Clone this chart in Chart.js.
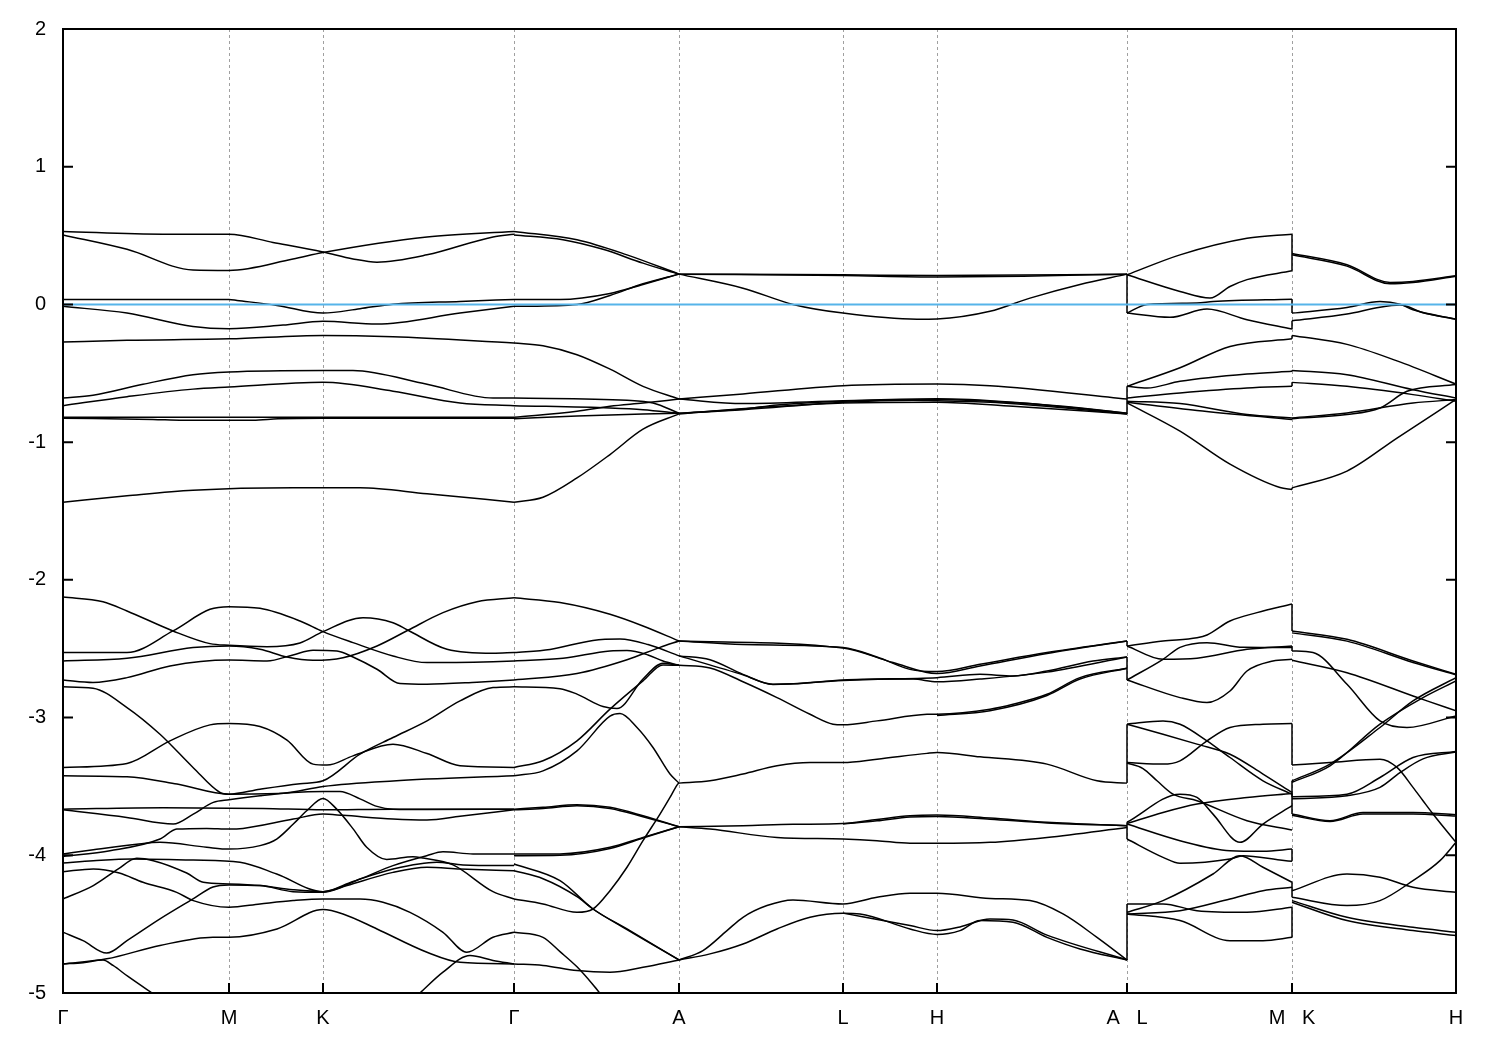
<!DOCTYPE html>
<html>
<head>
<meta charset="utf-8">
<script src="https://cdn.jsdelivr.net/npm/chart.js@4.4.1/dist/chart.umd.min.js"></script>
<style>
  html, body { margin: 0; padding: 0; background: #fff; }
  canvas { display: block; }
</style>
</head>
<body>
<canvas id="bands" width="1500" height="1050"></canvas>
<script>
// high-symmetry points along the k-path
const kTicks = [0, 1.66, 2.60, 4.51, 6.16, 7.80, 8.74, 10.64, 12.29, 13.93];
const kLabels = ['Γ', 'M', 'K', 'Γ', 'A', 'L', 'H', 'A   L', 'M   K', 'H'];
const energyTicks = [2, 1, 0, -1, -2, -3, -4, -5];
const fermiLevel = 0;

// Γ - M - K - Γ
const bandsGMKG = [
  [[0,0.53],[1.0,0.51],[1.66,0.51],[2.1,0.45],[2.60,0.38],[2.9,0.33],[3.14,0.307],[3.64,0.36],[4.3,0.49],[4.51,0.51]],
  [[0,0.505],[0.64,0.40],[1.3,0.25],[1.66,0.247],[2.3,0.33],[2.60,0.377],[3.64,0.49],[4.51,0.53]],
  [[0,0.036],[1.0,0.036],[1.66,0.036],[1.74,0.029],[2.14,-0.007],[2.60,-0.063],[2.97,-0.031],[3.30,0.002],[3.97,0.022],[4.51,0.036]],
  [[0,-0.014],[0.64,-0.063],[1.30,-0.16],[1.66,-0.176],[2.2,-0.15],[2.60,-0.123],[3.14,-0.143],[3.97,-0.063],[4.51,-0.014]],
  [[0,-0.273],[0.64,-0.26],[1.66,-0.25],[2.60,-0.225],[3.3,-0.235],[4.51,-0.28]],
  [[0,-0.68],[0.30,-0.66],[0.80,-0.58],[1.30,-0.51],[1.66,-0.49],[2.60,-0.479],[2.9,-0.48],[3.64,-0.58],[4.30,-0.68],[4.51,-0.68]],
  [[0,-0.735],[0.64,-0.67],[1.30,-0.615],[1.66,-0.60],[2.60,-0.566],[3.30,-0.63],[3.97,-0.716],[4.51,-0.735]],
  [[0,-0.82],[1.66,-0.82],[2.60,-0.82],[4.51,-0.82]],
  [[0,-0.826],[0.9,-0.835],[1.2,-0.841],[1.9,-0.841],[2.15,-0.83],[2.6,-0.826],[4.51,-0.826]],
  [[0,-1.436],[0.64,-1.39],[1.30,-1.35],[2.30,-1.332],[2.97,-1.332],[3.64,-1.375],[4.51,-1.436]],
  [[0,-2.125],[0.40,-2.159],[0.64,-2.226],[1.10,-2.371],[1.47,-2.463],[1.66,-2.475],[2.04,-2.485],[2.37,-2.458],[2.60,-2.376],[3.0,-2.275],[3.30,-2.311],[3.45,-2.366],[3.84,-2.504],[4.30,-2.533],[4.51,-2.528]],
  [[0,-2.528],[0.64,-2.528],[1.10,-2.371],[1.47,-2.214],[1.66,-2.195],[1.97,-2.207],[2.37,-2.299],[2.60,-2.376],[2.90,-2.456],[3.30,-2.553],[3.64,-2.601],[4.30,-2.594],[4.51,-2.589]],
  [[0,-2.589],[0.64,-2.569],[1.30,-2.492],[1.66,-2.480],[1.97,-2.504],[2.24,-2.560],[2.50,-2.584],[2.80,-2.565],[3.14,-2.480],[3.45,-2.366],[3.80,-2.238],[4.14,-2.159],[4.51,-2.130]],
  [[0,-2.727],[0.30,-2.745],[0.64,-2.710],[1.07,-2.625],[1.66,-2.582],[2.04,-2.589],[2.30,-2.545],[2.50,-2.511],[2.74,-2.516],[2.90,-2.560],[3.14,-2.649],[3.37,-2.753],[3.64,-2.758],[4.14,-2.743],[4.51,-2.727]],
  [[0,-2.777],[0.30,-2.787],[0.64,-2.927],[0.97,-3.121],[1.30,-3.362],[1.57,-3.544],[1.66,-3.556],[1.97,-3.52],[2.37,-3.48],[2.60,-3.459],[2.97,-3.266],[3.30,-3.145],[3.64,-3.024],[3.97,-2.879],[4.30,-2.782],[4.51,-2.777]],
  [[0,-3.362],[0.64,-3.333],[1.07,-3.169],[1.47,-3.053],[1.66,-3.043],[1.97,-3.065],[2.24,-3.164],[2.50,-3.338],[2.64,-3.345],[2.90,-3.278],[3.30,-3.193],[3.64,-3.261],[3.97,-3.350],[4.51,-3.362]],
  [[0,-3.423],[0.64,-3.43],[1.14,-3.483],[1.66,-3.556],[2.2,-3.55],[2.60,-3.50],[3.3,-3.46],[4.51,-3.423]],
  [[0,-3.665],[1.0,-3.655],[2.0,-3.66],[2.6,-3.67],[3.3,-3.665],[4.51,-3.665]],
  [[0,-3.670],[0.637,-3.725],[1.103,-3.773],[1.303,-3.701],[1.503,-3.616],[1.66,-3.597],[1.97,-3.568],[2.303,-3.544],[2.60,-3.537],[2.77,-3.537],[2.97,-3.59],[3.14,-3.645],[3.30,-3.665],[3.64,-3.668],[4.51,-3.665]],
  [[0,-4.008],[0.47,-3.967],[0.97,-3.882],[1.137,-3.810],[1.437,-3.805],[1.66,-3.81],[1.80,-3.805],[2.303,-3.737],[2.60,-3.701],[2.80,-3.71],[3.30,-3.737],[3.64,-3.744],[3.97,-3.717],[4.51,-3.670]],
  [[0,-3.991],[0.303,-3.96],[0.737,-3.92],[0.97,-3.906],[1.437,-3.942],[1.66,-3.955],[1.97,-3.930],[2.137,-3.882],[2.303,-3.773],[2.437,-3.677],[2.60,-3.587],[2.737,-3.665],[2.903,-3.810],[3.037,-3.942],[3.237,-4.031],[3.50,-4.01],[3.60,-4.02],[3.90,-4.07],[4.30,-4.264],[4.51,-4.317]],
  [[0,-4.056],[0.303,-4.04],[0.687,-4.027],[1.303,-4.035],[1.77,-4.051],[2.137,-4.136],[2.60,-4.264],[2.97,-4.172],[3.30,-4.075],[3.637,-4.003],[3.80,-3.975],[4.10,-3.99],[4.51,-3.991]],
  [[0,-4.317],[0.303,-4.22],[0.553,-4.099],[0.737,-4.022],[0.903,-4.039],[1.237,-4.129],[1.403,-4.196],[1.66,-4.208],[1.97,-4.22],[2.30,-4.25],[2.60,-4.264],[2.90,-4.19],[3.30,-4.10],[3.737,-4.05],[4.0,-4.07],[4.51,-4.075]],
  [[0,-4.559],[0.20,-4.62],[0.437,-4.71],[0.64,-4.62],[0.97,-4.462],[1.30,-4.317],[1.50,-4.23],[1.66,-4.215],[1.97,-4.22],[2.30,-4.264],[2.60,-4.269],[2.84,-4.22],[3.30,-4.124],[3.64,-4.087],[3.97,-4.099],[4.51,-4.112]],
  [[0,-4.119],[0.303,-4.099],[0.563,-4.129],[0.80,-4.196],[1.137,-4.269],[1.303,-4.329],[1.66,-4.377],[1.97,-4.353],[2.30,-4.329],[2.60,-4.317],[2.97,-4.317],[3.20,-4.341],[3.47,-4.414],[3.80,-4.559],[4.037,-4.704],[4.30,-4.595],[4.51,-4.559]],
  [[0,-4.789],[0.437,-4.752],[0.97,-4.655],[1.50,-4.595],[1.66,-4.595],[2.14,-4.535],[2.60,-4.394],[2.80,-4.426],[3.14,-4.535],[3.64,-4.704],[3.97,-4.777],[4.51,-4.789]],
  [[0,-4.789],[0.20,-4.78],[0.40,-4.76],[0.50,-4.80],[0.65,-4.88],[0.93,-5.02]],
  [[3.57,-5.0],[3.80,-4.849],[4.07,-4.728],[4.30,-4.764],[4.51,-4.789]]
];

// Γ - A
const bandsGA = [
  [[4.51,0.53],[5.14,0.47],[5.64,0.36],[6.16,0.22]],
  [[4.51,0.505],[5.0,0.47],[5.4,0.40],[5.8,0.30],[6.16,0.22]],
  [[4.51,0.036],[4.97,0.036],[5.47,0.08],[5.80,0.145],[6.16,0.22]],
  [[4.51,-0.014],[5.14,0.0],[5.47,0.065],[5.80,0.15],[6.16,0.22]],
  [[4.51,-0.28],[4.80,-0.30],[5.14,-0.365],[5.47,-0.47],[5.80,-0.595],[6.16,-0.687]],
  [[4.51,-0.68],[5.64,-0.696],[5.90,-0.716],[6.16,-0.79]],
  [[4.51,-0.735],[5.47,-0.752],[5.80,-0.764],[6.16,-0.79]],
  [[4.51,-0.82],[5.14,-0.776],[5.47,-0.74],[5.80,-0.716],[6.16,-0.687]],
  [[4.51,-0.83],[5.14,-0.81],[5.80,-0.795],[6.16,-0.79]],
  [[4.51,-1.436],[4.80,-1.40],[5.14,-1.26],[5.47,-1.09],[5.80,-0.906],[6.16,-0.795]],
  [[4.51,-2.13],[4.97,-2.165],[5.47,-2.25],[5.80,-2.335],[6.16,-2.444]],
  [[4.51,-2.528],[4.87,-2.505],[5.30,-2.44],[5.57,-2.43],[5.85,-2.47],[6.16,-2.552]],
  [[4.51,-2.589],[5.0,-2.57],[5.47,-2.516],[5.64,-2.513],[5.85,-2.545],[6.0,-2.589],[6.16,-2.62]],
  [[4.51,-2.727],[5.14,-2.68],[5.64,-2.58],[5.97,-2.49],[6.16,-2.444]],
  [[4.51,-2.777],[4.97,-2.79],[5.14,-2.83],[5.40,-2.92],[5.54,-2.935],[5.80,-2.72],[6.0,-2.605],[6.16,-2.62]],
  [[4.51,-3.362],[4.80,-3.314],[5.14,-3.169],[5.47,-2.939],[5.80,-2.734],[6.0,-2.618],[6.16,-2.62]],
  [[4.51,-3.423],[4.80,-3.387],[5.14,-3.242],[5.47,-2.99],[5.57,-2.971],[5.74,-3.072],[5.90,-3.217],[6.07,-3.410],[6.16,-3.476]],
  [[4.51,-3.665],[4.80,-3.652],[5.14,-3.633],[5.47,-3.652],[5.80,-3.713],[6.16,-3.793]],
  [[4.51,-3.670],[4.80,-3.66],[5.14,-3.64],[5.47,-3.66],[5.80,-3.72],[6.16,-3.793]],
  [[4.51,-3.991],[4.97,-3.99],[5.47,-3.942],[5.80,-3.870],[6.16,-3.793]],
  [[4.51,-4.003],[4.97,-4.0],[5.47,-3.95],[5.80,-3.875],[6.16,-3.793]],
  [[4.51,-4.063],[4.97,-4.184],[5.30,-4.39],[5.64,-4.535],[6.16,-4.760]],
  [[4.51,-4.112],[4.80,-4.17],[5.14,-4.30],[5.30,-4.39],[5.64,-4.54],[6.16,-4.76]],
  [[4.51,-4.317],[4.80,-4.353],[5.14,-4.414],[5.30,-4.39],[5.47,-4.257],[5.64,-4.087],[5.80,-3.894],[5.97,-3.701],[6.07,-3.580],[6.14,-3.49],[6.16,-3.473]],
  [[4.51,-4.559],[4.80,-4.596],[4.97,-4.70],[5.14,-4.81],[5.30,-4.94],[5.40,-5.03]],
  [[4.51,-4.789],[4.80,-4.80],[5.14,-4.837],[5.47,-4.849],[5.80,-4.813],[6.16,-4.760]]
];

// A - L - H - A
const bandsALHA = [
  [[6.16,0.22],[7.80,0.215],[8.74,0.21],[10.64,0.22]],
  [[6.16,0.22],[7.80,0.21],[8.74,0.20],[9.6,0.205],[10.64,0.22]],
  [[6.16,0.22],[6.80,0.118],[7.30,0.0],[7.80,-0.063],[8.54,-0.107],[8.74,-0.105],[9.27,-0.05],[9.67,0.046],[10.17,0.145],[10.64,0.22]],
  [[6.16,-0.687],[6.80,-0.65],[7.80,-0.59],[8.74,-0.578],[9.27,-0.59],[10.64,-0.687]],
  [[6.16,-0.79],[6.80,-0.76],[7.14,-0.73],[7.80,-0.703],[8.74,-0.69],[9.27,-0.703],[10.0,-0.74],[10.64,-0.79]],
  [[6.16,-0.79],[6.80,-0.765],[7.80,-0.71],[8.50,-0.695],[8.74,-0.70],[9.27,-0.71],[10.0,-0.75],[10.64,-0.795]],
  [[6.16,-0.687],[6.80,-0.72],[7.80,-0.70],[8.74,-0.685],[9.5,-0.71],[10.64,-0.79]],
  [[6.16,-0.795],[7.14,-0.74],[7.80,-0.715],[8.74,-0.71],[9.5,-0.74],[10.64,-0.795]],
  [[6.16,-2.444],[6.80,-2.47],[7.80,-2.492],[8.14,-2.56],[8.47,-2.65],[8.74,-2.666],[9.17,-2.613],[9.84,-2.528],[10.64,-2.444]],
  [[6.16,-2.444],[7.80,-2.495],[8.30,-2.60],[8.74,-2.68],[9.17,-2.625],[9.84,-2.535],[10.64,-2.444]],
  [[6.16,-2.552],[6.47,-2.58],[6.80,-2.686],[7.10,-2.758],[7.30,-2.755],[7.80,-2.727],[8.74,-2.710],[9.17,-2.686],[9.50,-2.698],[9.84,-2.662],[10.3,-2.59],[10.64,-2.56]],
  [[6.16,-2.552],[6.80,-2.69],[7.10,-2.76],[7.80,-2.73],[8.5,-2.72],[8.74,-2.74],[9.17,-2.72],[9.84,-2.67],[10.64,-2.56]],
  [[6.16,-2.62],[6.47,-2.64],[6.80,-2.74],[7.14,-2.855],[7.47,-2.976],[7.70,-3.048],[7.80,-3.053],[8.14,-3.024],[8.64,-2.976],[8.74,-2.975],[9.27,-2.939],[9.50,-2.903],[9.84,-2.831],[10.17,-2.71],[10.64,-2.642]],
  [[8.74,-2.985],[9.27,-2.95],[9.84,-2.84],[10.17,-2.72],[10.64,-2.642]],
  [[6.16,-3.476],[6.47,-3.459],[6.80,-3.410],[7.14,-3.350],[7.47,-3.326],[7.80,-3.326],[8.14,-3.302],[8.64,-3.26],[8.74,-3.254],[9.17,-3.285],[9.84,-3.338],[10.34,-3.459],[10.64,-3.476]],
  [[6.16,-3.793],[6.80,-3.785],[7.30,-3.775],[7.80,-3.769],[8.14,-3.740],[8.47,-3.713],[8.74,-3.708],[9.27,-3.730],[9.84,-3.761],[10.64,-3.785]],
  [[7.80,-3.772],[8.14,-3.75],[8.47,-3.722],[8.74,-3.718],[9.27,-3.738],[9.84,-3.765],[10.64,-3.785]],
  [[6.16,-3.793],[6.47,-3.810],[7.14,-3.870],[7.80,-3.882],[8.14,-3.894],[8.47,-3.913],[8.74,-3.913],[9.27,-3.906],[9.84,-3.870],[10.64,-3.798]],
  [[6.16,-4.760],[6.40,-4.692],[6.64,-4.547],[6.80,-4.450],[7.04,-4.365],[7.30,-4.324],[7.80,-4.353],[8.14,-4.305],[8.47,-4.276],[8.74,-4.276],[9.27,-4.313],[9.67,-4.329],[10.0,-4.426],[10.34,-4.596],[10.64,-4.760]],
  [[6.16,-4.760],[6.47,-4.716],[6.80,-4.644],[7.14,-4.535],[7.47,-4.450],[7.80,-4.421],[7.97,-4.426],[8.47,-4.535],[8.74,-4.575],[8.97,-4.547],[9.17,-4.474],[9.50,-4.486],[9.84,-4.596],[10.17,-4.680],[10.64,-4.760]],
  [[7.80,-4.42],[8.47,-4.51],[8.74,-4.547],[8.97,-4.52],[9.27,-4.462],[9.50,-4.47],[9.84,-4.58],[10.64,-4.760]]
];

// L - M
const bandsLM = [
  [[10.64,0.215],[11.17,0.36],[11.84,0.48],[12.29,0.51]],
  [[10.64,0.215],[11.17,0.094],[11.47,0.046],[11.67,0.13],[11.84,0.18],[12.29,0.244]],
  [[10.64,-0.063],[10.84,0.0],[11.34,0.01],[11.50,0.022],[12.29,0.038]],
  [[10.64,-0.063],[11.07,-0.094],[11.44,-0.034],[11.84,-0.111],[12.29,-0.179]],
  [[10.64,-0.595],[11.17,-0.46],[11.67,-0.305],[12.29,-0.25]],
  [[10.64,-0.595],[10.84,-0.607],[11.17,-0.558],[11.84,-0.505],[12.29,-0.486]],
  [[10.64,-0.68],[11.17,-0.643],[11.84,-0.607],[12.29,-0.595]],
  [[10.64,-0.703],[11.17,-0.72],[11.84,-0.80],[12.29,-0.824]],
  [[10.64,-0.71],[11.34,-0.77],[12.29,-0.836]],
  [[10.64,-0.715],[11.17,-0.92],[11.67,-1.16],[12.17,-1.33],[12.29,-1.344]],
  [[10.64,-2.480],[11.0,-2.444],[11.34,-2.420],[11.44,-2.400],[11.67,-2.299],[11.94,-2.238],[12.29,-2.175]],
  [[10.64,-2.48],[11.0,-2.577],[11.34,-2.569],[11.84,-2.504],[12.29,-2.480]],
  [[10.64,-2.727],[11.0,-2.577],[11.17,-2.49],[11.44,-2.456],[11.8,-2.49],[12.29,-2.492]],
  [[10.64,-2.727],[11.17,-2.855],[11.44,-2.891],[11.67,-2.807],[11.84,-2.662],[12.1,-2.589],[12.29,-2.577]],
  [[10.64,-3.048],[11.0,-3.024],[11.17,-3.048],[11.44,-3.169],[11.67,-3.290],[12.0,-3.459],[12.29,-3.556]],
  [[10.64,-3.048],[11.0,-3.121],[11.34,-3.193],[11.67,-3.266],[12.0,-3.410],[12.29,-3.544]],
  [[10.64,-3.326],[11.0,-3.338],[11.17,-3.314],[11.44,-3.169],[11.67,-3.072],[12.0,-3.048],[12.29,-3.043]],
  [[10.64,-3.33],[10.80,-3.37],[10.94,-3.459],[11.10,-3.556],[11.34,-3.604],[11.84,-3.749],[12.29,-3.817]],
  [[10.64,-3.769],[11.0,-3.689],[11.34,-3.628],[11.84,-3.580],[12.29,-3.551]],
  [[10.64,-3.773],[11.17,-3.894],[11.67,-3.967],[12.0,-3.971],[12.29,-3.955]],
  [[10.64,-3.76],[11.17,-3.556],[11.34,-3.58],[11.50,-3.701],[11.77,-3.906],[12.0,-3.773],[12.29,-3.640]],
  [[10.64,-3.882],[11.0,-4.015],[11.17,-4.058],[11.67,-4.027],[11.80,-4.003],[12.17,-4.034],[12.29,-4.044]],
  [[10.64,-4.353],[11.0,-4.353],[11.34,-4.402],[11.84,-4.414],[12.29,-4.377]],
  [[10.64,-4.426],[11.17,-4.474],[11.67,-4.620],[12.0,-4.620],[12.29,-4.596]],
  [[10.64,-4.414],[11.0,-4.329],[11.50,-4.136],[11.77,-4.003],[12.0,-4.087],[12.29,-4.196]],
  [[10.64,-4.426],[11.17,-4.402],[11.67,-4.317],[12.0,-4.257],[12.29,-4.232]]
];

// K - H
const bandsKH = [
  [[12.29,0.37],[12.84,0.288],[13.27,0.16],[13.50,0.167],[13.93,0.208]],
  [[12.29,0.36],[12.84,0.278],[13.27,0.15],[13.50,0.16],[13.93,0.205]],
  [[12.29,-0.063],[12.84,-0.022],[13.17,0.022],[13.37,0.002],[13.50,-0.039],[13.93,-0.107]],
  [[12.29,-0.118],[12.84,-0.07],[13.17,-0.02],[13.37,-0.005],[13.60,-0.06],[13.93,-0.107]],
  [[12.29,-0.225],[12.84,-0.29],[13.34,-0.41],[13.93,-0.578]],
  [[12.29,-0.479],[12.84,-0.51],[13.50,-0.619],[13.93,-0.68]],
  [[12.29,-0.566],[12.84,-0.595],[13.50,-0.655],[13.93,-0.703]],
  [[12.29,-0.824],[12.84,-0.788],[13.50,-0.716],[13.93,-0.691]],
  [[12.29,-0.83],[12.84,-0.80],[13.17,-0.752],[13.44,-0.631],[13.93,-0.582]],
  [[12.29,-1.332],[12.84,-1.21],[13.34,-0.97],[13.93,-0.69]],
  [[12.29,-2.371],[12.84,-2.432],[13.50,-2.589],[13.93,-2.686]],
  [[12.29,-2.385],[12.84,-2.445],[13.50,-2.60],[13.93,-2.69]],
  [[12.29,-2.516],[12.50,-2.528],[12.84,-2.758],[13.17,-3.024],[13.44,-3.072],[13.93,-2.988]],
  [[12.29,-2.584],[12.84,-2.674],[13.50,-2.843],[13.64,-2.879],[13.93,-2.951]],
  [[12.29,-3.459],[12.67,-3.338],[13.17,-3.072],[13.50,-2.879],[13.93,-2.710]],
  [[12.29,-3.47],[12.67,-3.35],[13.17,-3.048],[13.60,-2.855],[13.93,-2.734]],
  [[12.29,-3.345],[12.67,-3.326],[13.17,-3.302],[13.34,-3.362],[13.50,-3.507],[13.60,-3.604],[13.70,-3.70],[13.93,-3.906]],
  [[12.29,-3.575],[12.84,-3.556],[13.17,-3.435],[13.50,-3.290],[13.93,-3.246]],
  [[12.29,-3.59],[12.84,-3.568],[13.17,-3.507],[13.37,-3.40],[13.60,-3.30],[13.93,-3.25]],
  [[12.29,-3.701],[12.67,-3.749],[13.0,-3.689],[13.50,-3.689],[13.93,-3.706]],
  [[12.29,-3.71],[12.67,-3.755],[13.0,-3.70],[13.50,-3.70],[13.93,-3.715]],
  [[12.29,-4.305],[12.84,-4.365],[13.17,-4.329],[13.50,-4.184],[13.77,-4.039],[13.93,-3.906]],
  [[12.29,-4.257],[12.84,-4.136],[13.17,-4.160],[13.50,-4.232],[13.93,-4.269]],
  [[12.29,-4.329],[12.84,-4.450],[13.50,-4.523],[13.93,-4.559]],
  [[12.29,-4.341],[12.84,-4.474],[13.50,-4.547],[13.93,-4.583]]
];

// vertical connections where the path jumps (A|L and M|K)
const jumpsAL = [[0.22,-0.063],[-0.595,-0.795],[-2.444,-2.48],[-2.56,-2.727],[-3.048,-3.476],[-3.76,-3.882],[-4.353,-4.760]];
const jumpsMK = [[0.51,0.244],[0.038,-0.063],[-0.179,-0.118],[-0.25,-0.225],[-0.486,-0.479],[-0.595,-0.566],[-1.344,-1.332],[-2.175,-2.371],[-2.48,-2.516],[-3.043,-3.345],[-3.459,-3.575],[-3.551,-3.701],[-3.955,-4.044],[-4.196,-4.305],[-4.377,-4.596]];

const FONT = "'Liberation Sans', Arial, sans-serif";

function bandDataset(points) {
    return {
        data: points.map(p => ({ x: p[0], y: p[1] })),
        borderColor: '#000',
        borderWidth: 1.5,
        pointRadius: 0,
        fill: false,
        cubicInterpolationMode: 'monotone'
    };
}

function jumpDataset(k, pair) {
    return {
        data: [{ x: k, y: pair[0] }, { x: k, y: pair[1] }],
        borderColor: '#000',
        borderWidth: 1.5,
        pointRadius: 0,
        fill: false,
        tension: 0
    };
}

const datasets = [];
// fermi level first so it is drawn on top
datasets.push({
    data: [{ x: kTicks[0], y: fermiLevel }, { x: kTicks[kTicks.length - 1], y: fermiLevel }],
    borderColor: '#56b4e9',
    borderWidth: 2,
    pointRadius: 0,
    fill: false,
    tension: 0
});
[bandsGMKG, bandsGA, bandsALHA, bandsLM, bandsKH].forEach(group => {
    group.forEach(band => datasets.push(bandDataset(band)));
});
jumpsAL.forEach(pair => datasets.push(jumpDataset(kTicks[7], pair)));
jumpsMK.forEach(pair => datasets.push(jumpDataset(kTicks[8], pair)));

// frame, inner tick marks and dashed lines at the high-symmetry points
const framePlugin = {
    id: 'frame',
    beforeDatasetsDraw(chart) {
        const { ctx, chartArea, scales } = chart;
        ctx.save();
        ctx.strokeStyle = '#a0a0a0';
        ctx.lineWidth = 1;
        ctx.setLineDash([3, 3]);
        kTicks.slice(1, -1).forEach(k => {
            const x = Math.round(scales.x.getPixelForValue(k)) + 0.5;
            ctx.beginPath();
            ctx.moveTo(x, chartArea.top);
            ctx.lineTo(x, chartArea.bottom);
            ctx.stroke();
        });
        ctx.restore();
    },
    afterDatasetsDraw(chart) {
        const { ctx, chartArea, scales } = chart;
        ctx.save();
        ctx.strokeStyle = '#000';
        ctx.lineWidth = 2;
        ctx.strokeRect(chartArea.left, chartArea.top, chartArea.right - chartArea.left, chartArea.bottom - chartArea.top);
        ctx.beginPath();
        kTicks.forEach(k => {
            const x = scales.x.getPixelForValue(k);
            ctx.moveTo(x, chartArea.bottom);
            ctx.lineTo(x, chartArea.bottom - 10);
        });
        energyTicks.forEach(e => {
            const y = scales.y.getPixelForValue(e);
            ctx.moveTo(chartArea.left, y);
            ctx.lineTo(chartArea.left + 10, y);
            ctx.moveTo(chartArea.right, y);
            ctx.lineTo(chartArea.right - 10, y);
        });
        ctx.stroke();
        ctx.restore();
    }
};

new Chart(document.getElementById('bands'), {
    type: 'line',
    data: { datasets: datasets },
    options: {
        responsive: false,
        animation: false,
        devicePixelRatio: 1,
        layout: { padding: { left: 0, right: 44, top: 24, bottom: 0 } },
        plugins: {
            legend: { display: false },
            tooltip: { enabled: false }
        },
        scales: {
            x: {
                type: 'linear',
                min: kTicks[0],
                max: kTicks[kTicks.length - 1],
                afterBuildTicks: scale => { scale.ticks = kTicks.map(v => ({ value: v })); },
                afterFit: scale => { scale.height = 57; },
                grid: { display: false, drawTicks: false },
                border: { display: false },
                ticks: {
                    autoSkip: false,
                    maxRotation: 0,
                    padding: 13,
                    color: '#000',
                    font: { family: FONT, size: 20 },
                    callback: (value, index) => kLabels[index]
                }
            },
            y: {
                min: -5,
                max: 2,
                afterBuildTicks: scale => { scale.ticks = energyTicks.map(v => ({ value: v })); },
                afterFit: scale => { scale.width = 63; },
                grid: { display: false, drawTicks: false },
                border: { display: false },
                ticks: {
                    padding: 17,
                    color: '#000',
                    font: { family: FONT, size: 20 },
                    callback: value => String(value)
                }
            }
        }
    },
    plugins: [framePlugin]
});
</script>
</body>
</html>
